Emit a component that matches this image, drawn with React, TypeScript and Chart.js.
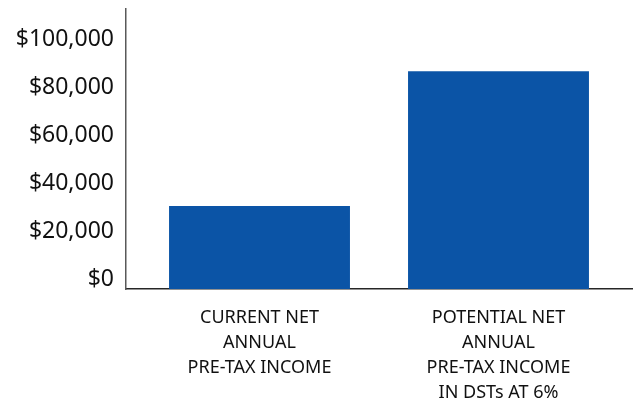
import React, { useEffect, useRef } from "react";
import { Chart, registerables } from "chart.js";

Chart.register(...registerables);

const categories: string[][] = [
  ["CURRENT NET", "ANNUAL", "PRE-TAX INCOME"],
  ["POTENTIAL NET", "ANNUAL", "PRE-TAX INCOME", "IN DSTs AT 6%"],
];
const incomeValues: number[] = [34700, 91000];
const yTicks: number[] = [0, 20000, 40000, 60000, 80000, 100000];

export default function App() {
  const ref = useRef<HTMLCanvasElement | null>(null);
  useEffect(() => {
    if (!ref.current) return;
    const chart = new Chart(ref.current, {
      type: "bar",
      data: {
        datasets: [
          {
            data: incomeValues.map((v, i) => ({ x: i, y: v })),
            backgroundColor: "#0B54A6",
            borderWidth: 0,
            barPercentage: 0.757,
            categoryPercentage: 1,
          },
        ],
      },
      options: {
        animation: false,
        responsive: false,
        maintainAspectRatio: false,
        layout: { padding: { top: 9, right: 1, left: 0, bottom: 0 } },
        plugins: { legend: { display: false }, tooltip: { enabled: false } },
        scales: {
          x: {
            type: "linear",
            offset: false,
            min: -0.5586,
            max: 1.5586,
            grid: { display: false, drawTicks: false, offset: false },
            border: { display: true, color: "#262626", width: 1.5 },
            afterBuildTicks: (scale: any) => {
              scale.ticks = categories.map((_, i) => ({ value: i }));
            },
            afterFit: (scale: any) => {
              scale.height = 405 - 289;
              scale.paddingLeft = 0;
              scale.paddingRight = 0;
            },
            ticks: {
              autoSkip: false,
              maxRotation: 0,
              padding: 16,
              color: "#111111",
              font: { family: "Noto Sans", size: 18, lineHeight: 25 / 18 },
              callback: (v: any) => categories[Math.round(Number(v))] ?? "",
            },
          },
          y: {
            min: 0,
            max: 117000,
            grid: { display: false, drawTicks: false },
            border: { display: true, color: "#595959", width: 1.5 },
            afterBuildTicks: (scale: any) => {
              scale.ticks = yTicks.map((v) => ({ value: v }));
            },
            afterFit: (scale: any) => {
              scale.width = 126;
              scale.paddingTop = 0;
              scale.paddingBottom = 0;
            },
            ticks: {
              padding: 12,
              labelOffset: -10,
              color: "#111111",
              font: { family: "Noto Sans", size: 23 },
              callback: (v: any) => "$" + Number(v).toLocaleString("en-US"),
            },
          },
        },
      },
    });
    return () => chart.destroy();
  }, []);
  return (
    <div style={{ position: "fixed", left: 0, top: 0, width: 633, height: 405, background: "#fff" }}>
      <canvas ref={ref} width={633} height={405} style={{ width: 633, height: 405 }} />
    </div>
  );
}
